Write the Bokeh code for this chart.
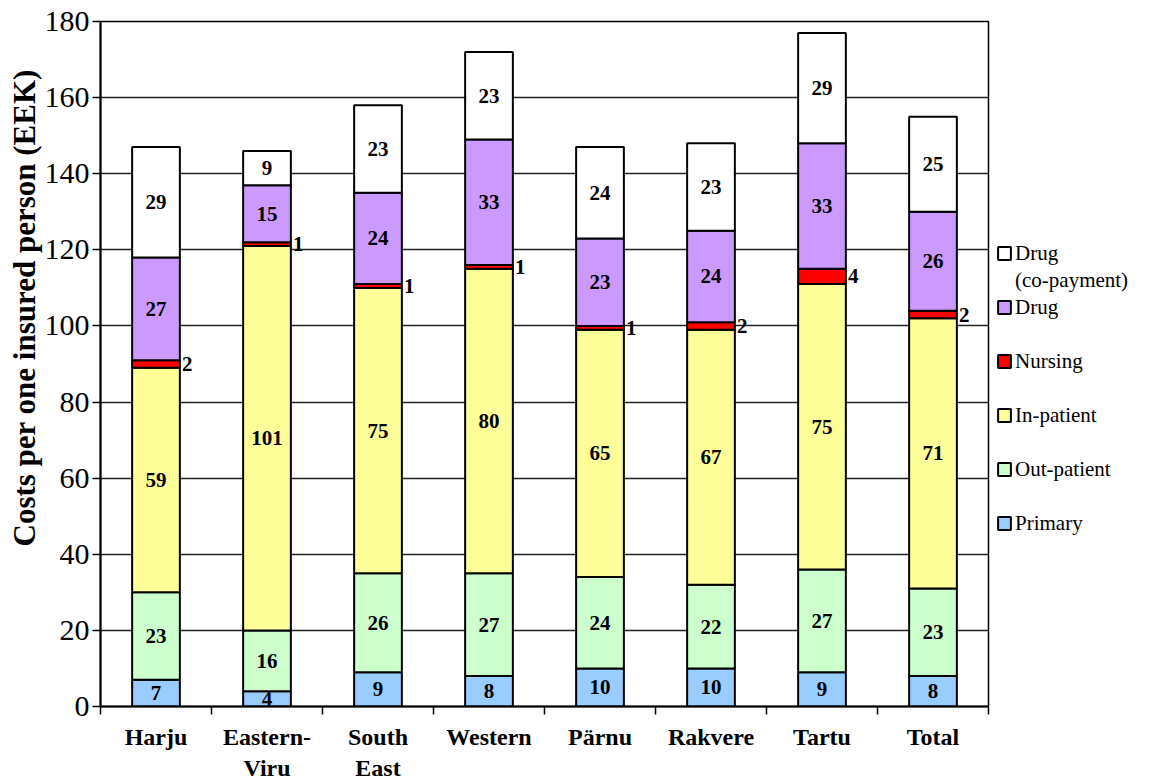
import numpy as np
from bokeh.plotting import figure
from bokeh.models import ColumnDataSource, FixedTicker, Legend, LegendItem, Title
from bokeh.core.properties import value
from bokeh.embed import file_html
from bokeh.resources import INLINE

# ---- data ----
regions = ["Harju", "Eastern-\nViru", "South\nEast", "Western", "Pärnu", "Rakvere", "Tartu", "Total"]
primary = [7, 4, 9, 8, 10, 10, 9, 8]
out_patient = [23, 16, 26, 27, 24, 22, 27, 23]
in_patient = [59, 101, 75, 80, 65, 67, 75, 71]
nursing = [2, 1, 1, 1, 1, 2, 4, 2]
drug = [27, 15, 24, 33, 23, 24, 33, 26]
drug_copay = [29, 9, 23, 23, 24, 23, 29, 25]

series_names = ["Primary", "Out-patient", "In-patient", "Nursing", "Drug", "Drug"]
series_values = [primary, out_patient, in_patient, nursing, drug, drug_copay]
colors = ["#99CCFF", "#CCFFCC", "#FFFF99", "#FF0000", "#CC99FF", "#FFFFFF"]
copay_note = "(co-payment)"
y_ticks = list(range(0, 181, 20))
y_title = "Costs per one insured person (EEK)"

# ---- build ----
n = len(regions)
xs = np.arange(n) + 0.5
keys = ["s%d" % i for i in range(len(series_values))]
data = {"x": xs}
for k, v in zip(keys, series_values):
    data[k] = v
src = ColumnDataSource(data)

FONT = "Liberation Serif"
BAR_W = 0.43

p = figure(frame_width=888, frame_height=685, x_range=(0, n), y_range=(0, 180),
           output_backend="svg", toolbar_location=None,
           min_border_left=100, min_border_top=21, min_border_bottom=68, min_border_right=0)
p.background_fill_color = "white"
p.border_fill_color = "white"
p.outline_line_color = "black"
p.outline_line_width = 1.5

renderers = p.vbar_stack(keys, x="x", width=BAR_W, fill_color=colors, line_color="black",
                         line_width=2, source=src)
# invisible renderer used only for text-only legend rows
blank = p.vbar(x=[], top=[], width=0.1, fill_alpha=0, line_alpha=0)

# data labels
bottom = np.zeros(n)
for i, vals in enumerate(series_values):
    vals = np.array(vals, dtype=float)
    mid = bottom + vals / 2
    if series_names[i] == "Nursing":
        lx = xs + BAR_W / 2 + 0.02
        align = "left"
    else:
        lx = xs
        align = "center"
    p.text(x=lx, y=mid, text=[str(int(v)) for v in vals], text_align=align,
           text_baseline="middle", text_font=value(FONT), text_font_style="bold",
           text_font_size="21px", text_color="black")
    bottom = bottom + vals

# grid
p.xgrid.grid_line_color = None
p.ygrid.grid_line_color = "#222222"
p.ygrid.grid_line_width = 1.5
p.ygrid.ticker = FixedTicker(ticks=y_ticks)

# y axis
p.yaxis.ticker = FixedTicker(ticks=y_ticks, minor_ticks=[])
p.yaxis.axis_line_color = "black"
p.yaxis.axis_line_width = 2
p.yaxis.major_tick_line_color = "black"
p.yaxis.major_tick_line_width = 1.5
p.yaxis.major_tick_out = 8
p.yaxis.major_tick_in = 0
p.yaxis.minor_tick_line_color = None
p.yaxis.major_label_text_font = FONT
p.yaxis.major_label_text_font_size = "30px"
p.yaxis.major_label_text_color = "black"
p.yaxis.major_label_standoff = 3

# y title (placed above the axis centre, as in the original)
p.add_layout(Title(text=y_title, align="left", offset=160, standoff=0,
                   text_font=FONT, text_font_style="bold", text_font_size="31px",
                   text_color="black"), "left")

# x axis: labels at centres, ticks between categories
p.xaxis.ticker = FixedTicker(ticks=list(xs), minor_ticks=list(range(n + 1)))
p.xaxis.major_label_overrides = {float(x): r for x, r in zip(xs, regions)}
p.xaxis.axis_line_color = "black"
p.xaxis.axis_line_width = 2
p.xaxis.major_tick_line_color = None
p.xaxis.major_tick_out = 0
p.xaxis.major_tick_in = 0
p.xaxis.minor_tick_line_color = "black"
p.xaxis.minor_tick_line_width = 1.5
p.xaxis.minor_tick_out = 8
p.xaxis.minor_tick_in = 0
p.xaxis.major_label_text_font = FONT
p.xaxis.major_label_text_font_style = "bold"
p.xaxis.major_label_text_font_size = "24px"
p.xaxis.major_label_text_color = "black"
p.xaxis.major_label_standoff = 9

# legend (rows: Drug co-payment, its second line, Drug, Nursing, In-, Out-patient, Primary)
rows = [(series_names[5], renderers[5]), (copay_note, blank), (series_names[4], renderers[4]),
        (" ", blank), (series_names[3], renderers[3]), (" ", blank),
        (series_names[2], renderers[2]), (" ", blank), (series_names[1], renderers[1]),
        (" ", blank), (series_names[0], renderers[0])]
items = [LegendItem(label=lab, renderers=[r]) for lab, r in rows]
legend = Legend(items=items, location=(8, 170), orientation="vertical",
                label_text_font=FONT, label_text_font_size="21px", label_text_color="black",
                glyph_width=16, glyph_height=16, label_height=26, label_standoff=3, spacing=1,
                padding=0, margin=10, border_line_color=None, background_fill_alpha=0)
p.add_layout(legend, "right")

open("out.html", "w").write(file_html(p, INLINE))
